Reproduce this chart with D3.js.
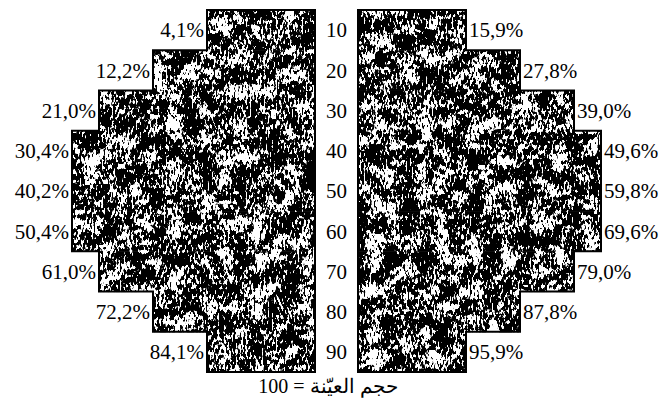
<!DOCTYPE html>
<html>
<head>
<meta charset="utf-8">
<script src="https://cdn.jsdelivr.net/npm/d3@7"></script>
<style>
  body { margin: 0; background: #fff; }
  text { font-family: "Liberation Serif", "DejaVu Serif", serif; fill: #000; }
</style>
</head>
<body>
<svg id="chart" width="661" height="405"></svg>
<script>
// age groups down the middle
const ages = [10, 20, 30, 40, 50, 60, 70, 80, 90]
// percentages printed on each side
const leftPct = [4.1, 12.2, 21.0, 30.4, 40.2, 50.4, 61.0, 72.2, 84.1]
const rightPct = [15.9, 27.8, 39.0, 49.6, 59.8, 69.6, 79.0, 87.8, 95.9]
// bar lengths (relative units) as drawn
const leftWidth = [4, 6, 8, 9, 9, 9, 8, 6, 4]
const rightWidth = [4, 6, 8, 9, 9, 9, 8, 6, 4]
const sampleLabel = "حجم العيّنة = 100"

const svg = d3.select("#chart")

const y = d3.scaleBand().domain(ages).range([10, 372]).padding(0)
const xL = d3.scaleLinear().domain([0, 9]).range([315, 72])
const xR = d3.scaleLinear().domain([0, 9]).range([358, 601])

const fmt = v => v.toFixed(1).replace(".", ",") + "%"

// stipple texture: coarse blotches + fine vertical-ish speckle, thresholded
const defs = svg.append("defs")
function makeFilter(id, seed) {
    const f = defs.append("filter").attr("id", id)
        .attr("x", 0).attr("y", 0).attr("width", 1).attr("height", 1)
        .attr("color-interpolation-filters", "sRGB")
    f.append("feTurbulence").attr("type", "fractalNoise")
        .attr("baseFrequency", "0.06 0.06").attr("numOctaves", 3)
        .attr("seed", seed).attr("result", "n1")
    f.append("feTurbulence").attr("type", "fractalNoise")
        .attr("baseFrequency", "0.5 0.2").attr("numOctaves", 2)
        .attr("seed", seed + 7).attr("result", "n2")
    f.append("feComposite").attr("in", "n1").attr("in2", "n2")
        .attr("operator", "arithmetic")
        .attr("k1", 0).attr("k2", 0.45).attr("k3", 0.55).attr("k4", 0)
        .attr("result", "mix")
    f.append("feColorMatrix").attr("in", "mix").attr("type", "matrix")
        .attr("values", "0 0 0 0 0  0 0 0 0 0  0 0 0 0 0  1 0 0 0 0")
        .attr("result", "a")
    f.append("feComponentTransfer").attr("in", "a").attr("result", "t")
        .append("feFuncA").attr("type", "linear").attr("slope", 30).attr("intercept", -13.6)
    f.append("feComposite").attr("in", "t").attr("in2", "SourceGraphic").attr("operator", "in")
}
makeFilter("stipL", 4)
makeFilter("stipR", 11)

function side(widths, x, filterId) {
    const rows = ages.map((a, i) => ({ age: a, w: widths[i] }))

    svg.append("g").selectAll("rect")
        .data(rows).enter().append("rect")
        .attr("x", d => Math.min(x(0), x(d.w)))
        .attr("y", d => y(d.age))
        .attr("width", d => Math.abs(x(d.w) - x(0)))
        .attr("height", y.bandwidth() + 0.5)
        .attr("fill", "#fff")

    svg.append("g").attr("filter", `url(#${filterId})`)
        .selectAll("rect")
        .data(rows).enter().append("rect")
        .attr("x", d => Math.min(x(0), x(d.w)))
        .attr("y", d => y(d.age))
        .attr("width", d => Math.abs(x(d.w) - x(0)))
        .attr("height", y.bandwidth() + 0.5)
        .attr("fill", "#000")

    // outline of the stepped shape
    const pts = [[x(0), y(ages[0])]]
    rows.forEach(d => {
        pts.push([x(d.w), y(d.age)])
        pts.push([x(d.w), y(d.age) + y.bandwidth()])
    })
    pts.push([x(0), y(ages[ages.length - 1]) + y.bandwidth()])
    svg.append("path")
        .attr("d", d3.line()(pts) + "Z")
        .attr("fill", "none")
        .attr("stroke", "#000")
        .attr("stroke-width", 2)
}

side(leftWidth, xL, "stipL")
side(rightWidth, xR, "stipR")

svg.selectAll(".age")
    .data(ages).enter().append("text")
    .attr("x", (xL(0) + xR(0)) / 2)
    .attr("y", d => y(d) + y.bandwidth() / 2)
    .attr("dy", "0.35em")
    .attr("text-anchor", "middle")
    .style("font-size", "21px")
    .text(d => d)

svg.selectAll(".lpct")
    .data(leftPct).enter().append("text")
    .attr("x", (d, i) => xL(leftWidth[i]) - 3)
    .attr("y", (d, i) => y(ages[i]) + y.bandwidth() / 2)
    .attr("dy", "0.35em")
    .attr("text-anchor", "end")
    .style("font-size", "21px")
    .text(fmt)

svg.selectAll(".rpct")
    .data(rightPct).enter().append("text")
    .attr("x", (d, i) => xR(rightWidth[i]) + 3)
    .attr("y", (d, i) => y(ages[i]) + y.bandwidth() / 2)
    .attr("dy", "0.35em")
    .attr("text-anchor", "start")
    .style("font-size", "21px")
    .text(fmt)

svg.append("text")
    .attr("x", 328)
    .attr("y", 393)
    .attr("text-anchor", "middle")
    .attr("direction", "rtl")
    .style("font-size", "20px")
    .text(sampleLabel)
</script>
</body>
</html>
